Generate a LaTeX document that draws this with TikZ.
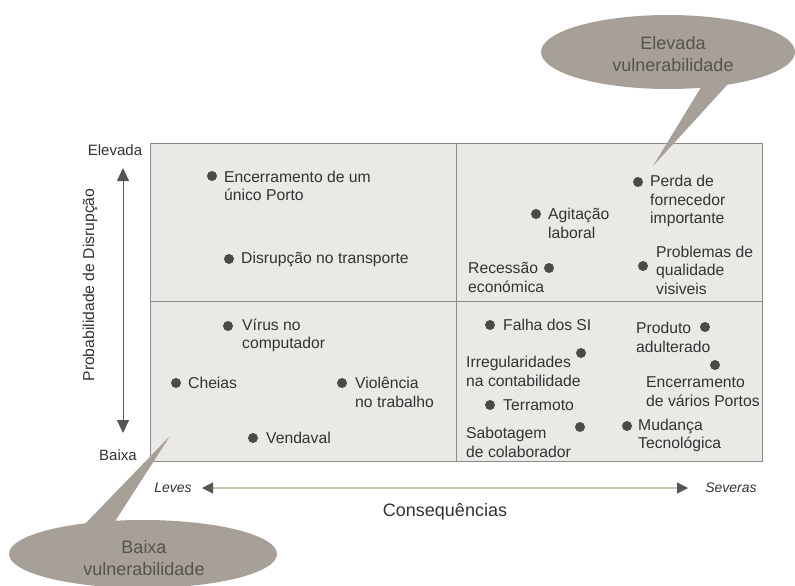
\documentclass[tikz,border=0pt]{standalone}
\usepackage{fontspec}
\setmainfont{Liberation Sans}
\usetikzlibrary{arrows.meta}
\definecolor{boxfill}{HTML}{EAE9E6}
\definecolor{boxline}{HTML}{8C8A88}
\definecolor{inkgray}{HTML}{333333}
\definecolor{dotgray}{HTML}{4C4A48}
\definecolor{bubgray}{HTML}{A6A098}
\definecolor{bubink}{HTML}{57524D}
\definecolor{axisgray}{HTML}{555555}
\definecolor{paleaxis}{HTML}{C9C8AC}

\begin{document}
\begin{tikzpicture}[
	                  x = 1pt,
	                  y = -1pt,
	  every node/.style = {inner sep=0pt, text=inkgray},
	         dot/.style = {circle, fill=dotgray, minimum size=10pt},
	         lbl/.style = {anchor=west, align=left, font=\fontsize{15.7}{18.5}\selectfont},
	     quadbox/.style = {draw=boxline, line width=0.7pt},
	      bubble/.style = {fill=bubgray},
	     bubtext/.style = {align=center, text=bubink, font=\fontsize{18}{21.5}\selectfont},
	       yaxis/.style = {draw=axisgray, line width=0.8pt,
	                       arrows={Triangle[width=12pt,length=13pt]-Triangle[width=12pt,length=13pt]}},
	       xaxis/.style = {draw=paleaxis, line width=1.2pt,
	                       arrows={Triangle[width=11pt,length=11pt,color=axisgray]-Triangle[width=11pt,length=11pt,color=axisgray]}},
	                     ]
		\useasboundingbox (0,0) rectangle (795,586);
		% matrix
		\fill[boxfill] (150,143) rectangle (762,461);
		\draw[quadbox] (150,143) rectangle (762,461);
		\draw[quadbox] (456,143) -- (456,461);
		\draw[quadbox] (150,301) -- (762,301);

		% axes
		\coordinate (ytop) at (123,168);
		\coordinate (ybot) at (123,433);
		\draw[yaxis] (ytop) -- (ybot);
		\node[lbl, anchor=center, font=\fontsize{15}{18}\selectfont] (elevada) at (115,150) {Elevada};
		\node[lbl, anchor=center, font=\fontsize{15}{18}\selectfont] (baixa) at (118,455) {Baixa};
		\node[lbl, anchor=center, rotate=90] (prob) at (90,285) {Probabilidade de Disrupção};

		\coordinate (xleft) at (202,488);
		\coordinate (xright) at (688,488);
		\draw[xaxis] (xleft) -- (xright);
		\node[lbl, anchor=center, font=\fontsize{14}{16}\itshape] (leves) at (173,488) {Leves};
		\node[lbl, anchor=center, font=\fontsize{14}{16}\itshape] (severas) at (731,488) {Severas};
		\node[lbl, anchor=center, font=\fontsize{18}{20}\selectfont] (consq) at (445,512) {Consequências};

		% elevada / baixa
		\node[dot] (encum) at (212,176) {};
		\node[lbl] (encumtxt) at (224,186) {Encerramento de um\\único Porto};
		\node[dot] (disr) at (229,259) {};
		\node[lbl] (disrtxt) at (241,259) {Disrupção no transporte};

		\node[dot] (perda) at (638,182) {};
		\node[lbl] (perdatxt) at (650,201) {Perda de\\fornecedor\\importante};
		\node[dot] (agit) at (536,214) {};
		\node[lbl] (agittxt) at (548,223.5) {Agitação\\laboral};
		\node[dot] (recess) at (549,268) {};
		\node[lbl] (recesstxt) at (468,277.5) {Recessão\\económica};
		\node[dot] (probl) at (643,266) {};
		\node[lbl] (probltxt) at (656,270) {Problemas de\\qualidade\\visiveis};

		\node[dot] (virus) at (228,326) {};
		\node[lbl] (virustxt) at (242,335.5) {Vírus no\\computador};
		\node[dot] (cheias) at (176,383) {};
		\node[lbl] (cheiastxt) at (188,383) {Cheias};
		\node[dot] (viol) at (342,383) {};
		\node[lbl] (violtxt) at (355,392.5) {Violência\\no trabalho};
		\node[dot] (vend) at (253,438) {};
		\node[lbl] (vendtxt) at (266,438) {Vendaval};

		\node[dot] (falha) at (490,325) {};
		\node[lbl] (falhatxt) at (503,325) {Falha dos SI};
		\node[dot] (produto) at (705,327) {};
		\node[lbl] (produtotxt) at (636,337.5) {Produto\\adulterado};
		\node[dot] (irreg) at (581,353) {};
		\node[lbl] (irregtxt) at (466,371.5) {Irregularidades\\na contabilidade};
		\node[dot] (encv) at (715,365) {};
		\node[lbl] (encvtxt) at (646,391.5) {Encerramento\\de vários Portos};
		\node[dot] (terra) at (490,405) {};
		\node[lbl] (terratxt) at (503,405) {Terramoto};
		\node[dot] (sabot) at (580,427) {};
		\node[lbl] (sabottxt) at (466,442.5) {Sabotagem\\de colaborador};
		\node[dot] (mud) at (627,426) {};
		\node[lbl] (mudtxt) at (638,435.5) {Mudança\\Tecnológica};

		% bubbles
		\fill[bubble] (668,52) ellipse [x radius=127pt, y radius=37pt];
		\fill[bubble] (703,84) -- (653,166) -- (728,84) -- cycle;
		\node[bubtext] (hivuln) at (673,54) {Elevada\\vulnerabilidade};

		\fill[bubble] (143,554) ellipse [x radius=134pt, y radius=34pt];
		\fill[bubble] (83,526) -- (170,436) -- (112,526) -- cycle;
		\node[bubtext] (lovuln) at (144,558) {Baixa\\vulnerabilidade};
\end{tikzpicture}
\end{document}
